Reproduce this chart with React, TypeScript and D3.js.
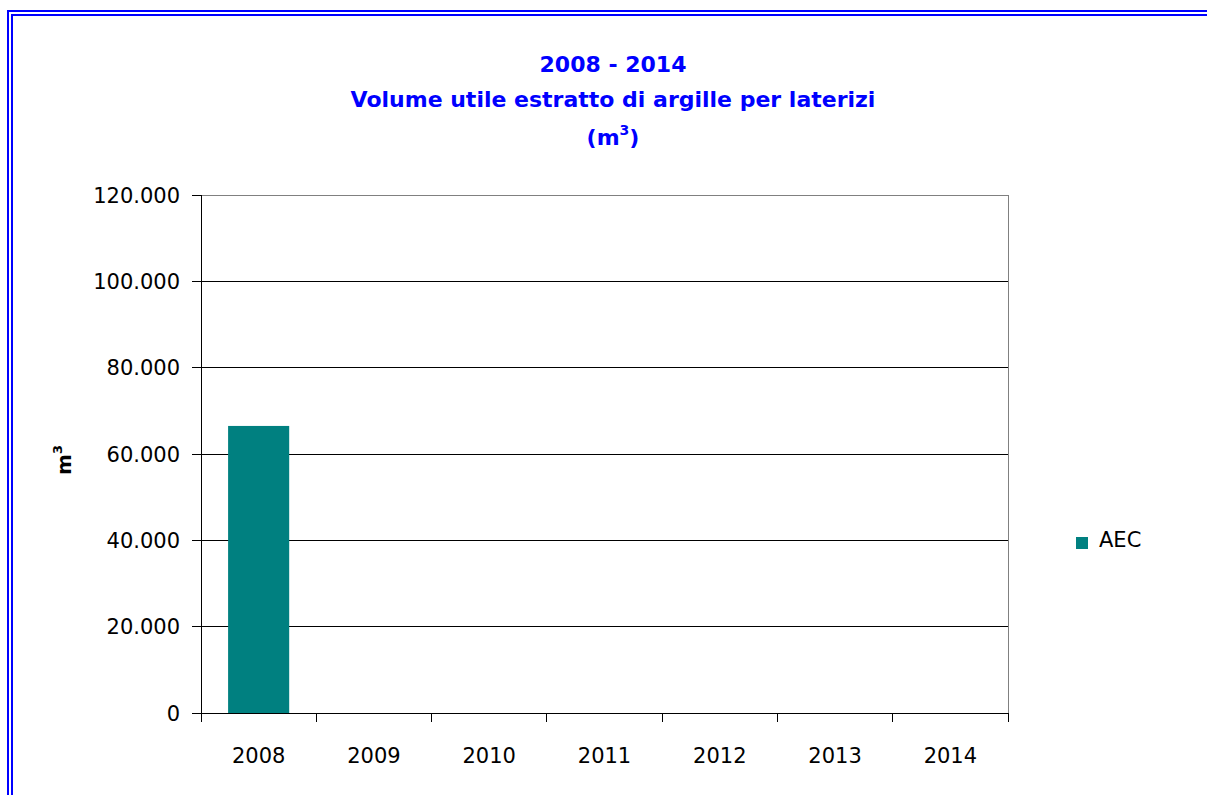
import React from "react";
import * as d3 from "d3";

const categories = ["2008", "2009", "2010", "2011", "2012", "2013", "2014"];
const seriesName = "AEC";
const values = [66500, 0, 0, 0, 0, 0, 0];
const yTicks = [0, 20000, 40000, 60000, 80000, 100000, 120000];
const titleLines = ["2008 - 2014", "Volume utile estratto di argille per laterizi"];

const W = 1207;
const H = 795;
const FONT = "'DejaVu Sans', sans-serif";
const TEAL = "#008080";
const BLUE = "#0000FF";

const locale = d3.formatLocale({ decimal: ",", thousands: ".", grouping: [3], currency: ["€", ""] });
const fmt = locale.format(",d");

export default function App() {
  const plot = { left: 201, right: 1008, top: 195, bottom: 713 };
  const x = d3.scaleBand<string>().domain(categories).range([plot.left, plot.right]).padding(0);
  const y = d3.scaleLinear().domain([0, 120000]).range([plot.bottom, plot.top]);
  const barW = x.bandwidth() * 0.53;
  const cx = 613;

  return (
    <svg width={W} height={H} style={{ position: "absolute", left: 0, top: 0, background: "#fff" }}>
      {/* double border */}
      <path d={`M8,${H} V11 H${W}`} fill="none" stroke={BLUE} strokeWidth={2} />
      <path d={`M12,${H} V15 H${W}`} fill="none" stroke={BLUE} strokeWidth={2} />

      {/* title */}
      <g fill={BLUE} fontFamily={FONT} fontWeight="bold" fontSize={22} textAnchor="middle">
        <text x={cx} y={72}>{titleLines[0]}</text>
        <text x={cx} y={107}>{titleLines[1]}</text>
        <text x={cx} y={145}>
          (m<tspan fontSize={14} dy={-10}>3</tspan><tspan dy={10}>)</tspan>
        </text>
      </g>

      {/* gridlines */}
      {yTicks.map((t) => (
        <line key={"g" + t} x1={plot.left} x2={plot.right} y1={y(t)} y2={y(t)}
          stroke={t === 120000 ? "#808080" : "#000"} strokeWidth={1} shapeRendering="crispEdges" />
      ))}
      {/* right border */}
      <line x1={plot.right} x2={plot.right} y1={plot.top} y2={plot.bottom} stroke="#808080" shapeRendering="crispEdges" />

      {/* bars */}
      {values.map((v, i) => (
        <rect key={"b" + i}
          x={(x(categories[i]) as number) + (x.bandwidth() - barW) / 2}
          y={y(v)} width={barW} height={y(0) - y(v)} fill={TEAL} />
      ))}

      {/* y axis */}
      <line x1={plot.left} x2={plot.left} y1={plot.top} y2={plot.bottom} stroke="#000" shapeRendering="crispEdges" />
      {yTicks.map((t) => (
        <g key={"yt" + t}>
          <line x1={plot.left - 9} x2={plot.left} y1={y(t)} y2={y(t)} stroke="#000" shapeRendering="crispEdges" />
          <text x={180} y={y(t)} dy="0.36em" textAnchor="end" fontFamily={FONT} fontSize={21} fill="#000">
            {fmt(t)}
          </text>
        </g>
      ))}

      {/* x axis */}
      <line x1={plot.left} x2={plot.right} y1={plot.bottom} y2={plot.bottom} stroke="#000" shapeRendering="crispEdges" />
      {[...categories.map((c) => x(c) as number), plot.right].map((px, i) => (
        <line key={"xt" + i} x1={px} x2={px} y1={plot.bottom} y2={plot.bottom + 9} stroke="#000" shapeRendering="crispEdges" />
      ))}
      {categories.map((c) => (
        <text key={"xl" + c} x={(x(c) as number) + x.bandwidth() / 2} y={763} textAnchor="middle"
          fontFamily={FONT} fontSize={21} fill="#000">{c}</text>
      ))}

      {/* y axis title */}
      <text transform="translate(71,460) rotate(-90)" textAnchor="middle" fontFamily={FONT} fontWeight="bold" fontSize={20} fill="#000">
        m<tspan fontSize={13} dy={-9}>3</tspan>
      </text>

      {/* legend */}
      <rect x={1076} y={537} width={12} height={12} fill={TEAL} />
      <text x={1099} y={547} fontFamily={FONT} fontSize={21} fill="#000">{seriesName}</text>
    </svg>
  );
}
